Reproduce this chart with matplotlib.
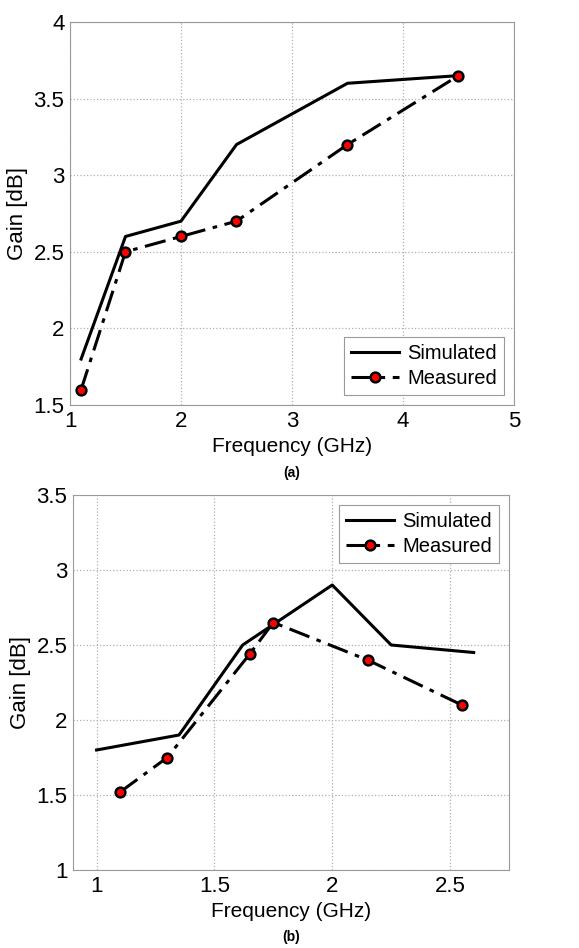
import matplotlib

matplotlib.use("Agg")
import matplotlib.pyplot as plt

plt.rcParams["font.family"] = ["Liberation Sans", "DejaVu Sans"]

# panel (a)
freq_sim_a = [1.1, 1.5, 2.0, 2.5, 3.5, 4.5]
gain_sim_a = [1.8, 2.6, 2.7, 3.2, 3.6, 3.65]
freq_meas_a = [1.1, 1.5, 2.0, 2.5, 3.5, 4.5]
gain_meas_a = [1.6, 2.5, 2.6, 2.7, 3.2, 3.65]

# panel (b)
freq_sim_b = [1.0, 1.35, 1.62, 2.0, 2.25, 2.6]
gain_sim_b = [1.8, 1.9, 2.5, 2.9, 2.5, 2.45]
freq_meas_b = [1.1, 1.3, 1.65, 1.75, 2.15, 2.55]
gain_meas_b = [1.52, 1.75, 2.44, 2.65, 2.4, 2.1]

dash_dot = (0, (7, 2.5, 1.5, 2.5))
grid_color = "#b0b0b0"


def draw_panel(ax, fs, gs, fm, gm, xlim, ylim, xticks, yticks, legend_loc, caption):
    ax.plot(fs, gs, color="k", linewidth=2.2, label="Simulated")
    ax.plot(fm, gm, color="k", linewidth=2.2, linestyle=dash_dot, marker="o",
            markersize=7, markerfacecolor="#ff0000", markeredgecolor="k",
            markeredgewidth=1.8, label="Measured")
    ax.set_xlim(*xlim)
    ax.set_ylim(*ylim)
    ax.set_xticks(xticks)
    ax.set_yticks(yticks)
    ax.set_xticklabels([f"{t:g}" for t in xticks])
    ax.set_yticklabels([f"{t:g}" for t in yticks])
    ax.grid(True, color=grid_color, linestyle=":", linewidth=0.9)
    ax.tick_params(labelsize=16, length=0, pad=4)
    for side in ["top", "right", "left", "bottom"]:
        ax.spines[side].set_color("#9a9a9a")
    ax.set_xlabel("Frequency (GHz)", fontsize=15, labelpad=4)
    ax.set_ylabel("Gain [dB]", fontsize=16, labelpad=4)
    leg = ax.legend(loc=legend_loc, fontsize=14.5, handlelength=2.4,
                    fancybox=False, framealpha=1, borderpad=0.35,
                    labelspacing=0.3, handletextpad=0.4)
    leg.get_frame().set_edgecolor("#9a9a9a")
    leg.get_frame().set_linewidth(0.8)
    ax.text(0.5, -0.16, caption, transform=ax.transAxes, ha="center",
            va="top", fontsize=10, fontweight="bold")


fig = plt.figure(figsize=(5.79, 9.48), dpi=100)
ax1 = fig.add_axes([70 / 579, 1 - 405 / 948, 444 / 579, 383 / 948])
ax2 = fig.add_axes([73 / 579, 1 - 870 / 948, 436 / 579, 375 / 948])

draw_panel(ax1, freq_sim_a, gain_sim_a, freq_meas_a, gain_meas_a,
           (1, 5), (1.5, 4), [1, 2, 3, 4, 5], [1.5, 2, 2.5, 3, 3.5, 4],
           "lower right", "(a)")
draw_panel(ax2, freq_sim_b, gain_sim_b, freq_meas_b, gain_meas_b,
           (0.9, 2.75), (1, 3.5), [1, 1.5, 2, 2.5], [1, 1.5, 2, 2.5, 3, 3.5],
           "upper right", "(b)")

fig.savefig("out.png", dpi=100)
